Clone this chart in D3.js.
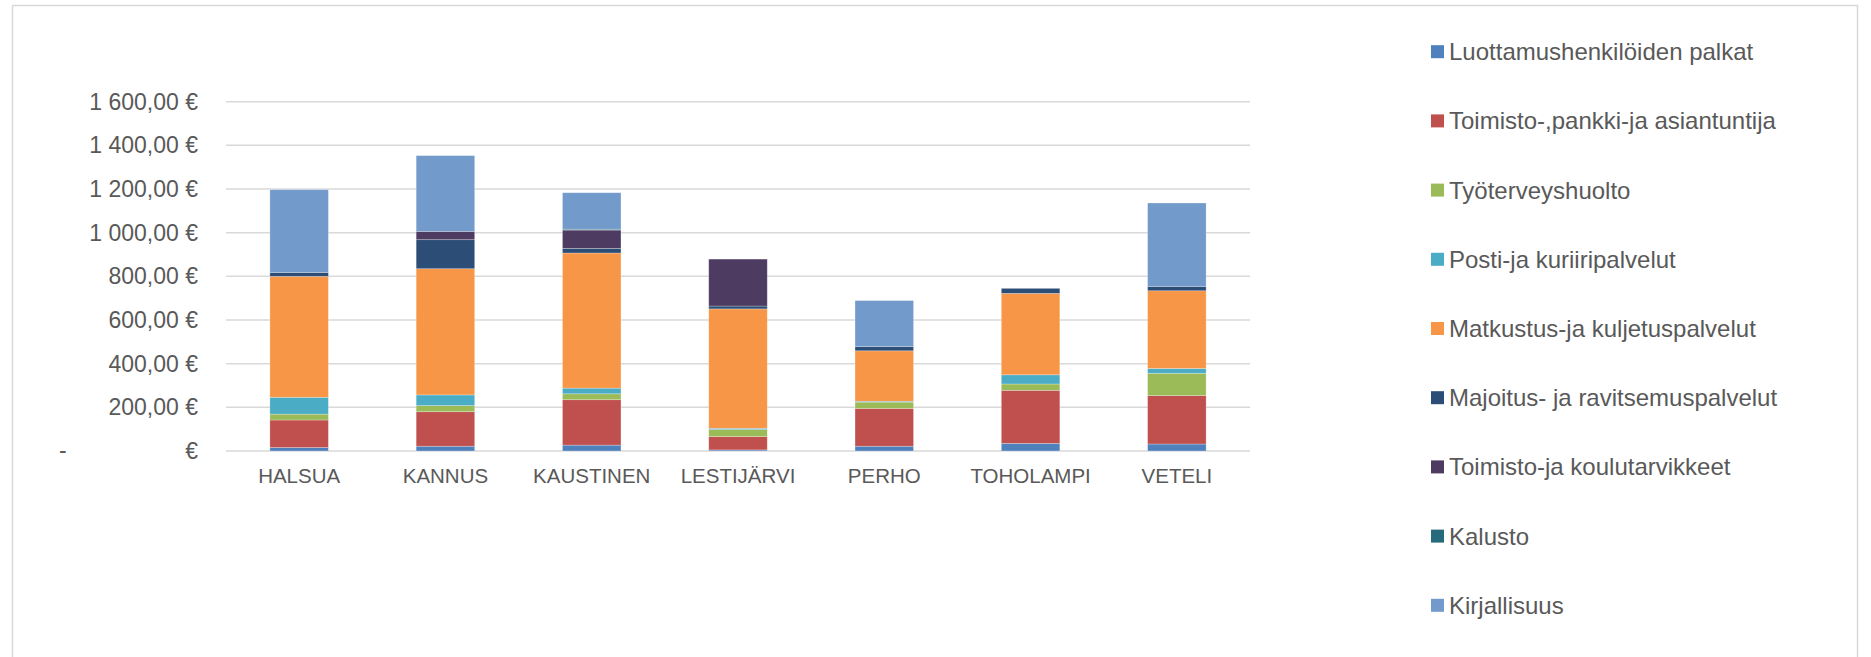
<!DOCTYPE html>
<html>
<head>
<meta charset="utf-8">
<script src="https://cdn.jsdelivr.net/npm/d3@7"></script>
<style>
  body { margin: 0; background: #fff; }
  text { font-family: "Liberation Sans", Arial, sans-serif; fill: #595959; }
</style>
</head>
<body>
<script>
const svgWidth = 1871
const svgHeight = 657

const municipalities = ["HALSUA", "KANNUS", "KAUSTINEN", "LESTIJÄRVI", "PERHO", "TOHOLAMPI", "VETELI"]

const seriesNames = [
  "Luottamushenkilöiden palkat",
  "Toimisto-,pankki-ja asiantuntija",
  "Työterveyshuolto",
  "Posti-ja kuriiripalvelut",
  "Matkustus-ja kuljetuspalvelut",
  "Majoitus- ja ravitsemuspalvelut",
  "Toimisto-ja koulutarvikkeet",
  "Kalusto",
  "Kirjallisuus"
]

// values per municipality, same order as municipalities
const luottamus = [16, 22, 27, 5, 22, 35, 32]
const toimistoPankki = [126, 158, 208, 61, 173, 243, 222]
const tyoterveys = [27, 28, 27, 32, 29, 29, 102]
const posti = [77, 49, 26, 6, 4, 42, 22]
const matkustus = [554, 578, 619, 547, 231, 373, 356]
const majoitus = [18, 133, 21, 13, 19, 23, 20]
const tarvikkeet = [0, 38, 84, 215, 0, 0, 0]
const kalusto = [0, 0, 4, 0, 0, 0, 0]
const kirjallisuus = [379, 347, 167, 0, 211, 0, 382]

const yTicks = [0, 200, 400, 600, 800, 1000, 1200, 1400, 1600]

const colors = ["#4F81BD", "#C0504D", "#9BBB59", "#4BACC6", "#F79646", "#2C4D75", "#4D3B62", "#276A7C", "#729ACA"]

const allSeries = [luottamus, toimistoPankki, tyoterveys, posti, matkustus, majoitus, tarvikkeet, kalusto, kirjallisuus]

const table = municipalities.map((m, i) => {
  const row = { name: m }
  seriesNames.forEach((s, j) => { row[s] = allSeries[j][i] })
  return row
})

const svg = d3.select("body").append("svg")
  .attr("width", svgWidth)
  .attr("height", svgHeight)

// chart border
svg.append("rect")
  .attr("x", 12.5).attr("y", 5.5)
  .attr("width", 1845).attr("height", 670)
  .attr("fill", "none")
  .attr("stroke", "#d9d9d9")
  .attr("stroke-width", 1.5)

const plot = { left: 226, right: 1250, top: 101.7, bottom: 451 }

const x = d3.scaleBand()
  .domain(municipalities)
  .range([plot.left, plot.right])
  .paddingInner(0.6)
  .paddingOuter(0.3)

const y = d3.scaleLinear()
  .domain([0, 1600])
  .range([plot.bottom, plot.top])

const fmt = d => {
  const s = d3.format(",.2f")(d)
  return s.replace(/,/g, " ").replace(".", ",") + " €"
}

// gridlines
svg.append("g")
  .selectAll("line")
  .data(yTicks)
  .enter()
  .append("line")
  .attr("x1", plot.left).attr("x2", plot.right)
  .attr("y1", d => y(d)).attr("y2", d => y(d))
  .attr("stroke", "#d9d9d9")
  .attr("stroke-width", 1.5)

// y axis labels
const yAxis = d3.axisLeft(y)
  .tickValues(yTicks)
  .tickSize(0)
  .tickPadding(0)
  .tickFormat(d => d === 0 ? "€" : fmt(d))

const yAxisG = svg.append("g")
  .attr("transform", `translate(198, 0)`)
  .call(yAxis)
yAxisG.select(".domain").remove()
yAxisG.selectAll("text")
  .attr("font-size", 23)
  .attr("font-family", "Liberation Sans, Arial, sans-serif")
  .attr("fill", "#595959")

svg.append("text")
  .attr("x", 59)
  .attr("y", y(0))
  .attr("dy", "0.32em")
  .attr("font-size", 23)
  .text("-")

// stacked bars
const stack = d3.stack().keys(seriesNames)
const layers = stack(table)

svg.append("g")
  .selectAll("g")
  .data(layers)
  .enter()
  .append("g")
  .attr("fill", (d, i) => colors[i])
  .selectAll("rect")
  .data(d => d)
  .enter()
  .append("rect")
  .attr("x", d => x(d.data.name))
  .attr("width", x.bandwidth())
  .attr("y", d => y(d[1]))
  .attr("height", d => y(d[0]) - y(d[1]))
  .attr("stroke", "#ffffff")
  .attr("stroke-opacity", 0.35)
  .attr("stroke-width", 0.75)

// x labels
const xAxis = d3.axisBottom(x).tickSize(0).tickPadding(0)
const xAxisG = svg.append("g")
  .attr("transform", `translate(0, ${plot.bottom})`)
  .call(xAxis)
xAxisG.select(".domain").remove()
xAxisG.selectAll("text")
  .attr("font-size", 20.5)
  .attr("font-family", "Liberation Sans, Arial, sans-serif")
  .attr("fill", "#595959")
  .attr("dy", null)
  .attr("y", 32)

// legend
const legend = svg.append("g")
  .selectAll("g")
  .data(seriesNames)
  .enter()
  .append("g")
  .attr("transform", (d, i) => `translate(1431, ${51.7 + i * 69.2})`)

legend.append("rect")
  .attr("x", 0).attr("y", -6.5)
  .attr("width", 13).attr("height", 13)
  .attr("fill", (d, i) => colors[i])

legend.append("text")
  .attr("x", 18)
  .attr("dy", "0.35em")
  .attr("font-size", 24)
  .text(d => d)
</script>
</body>
</html>
